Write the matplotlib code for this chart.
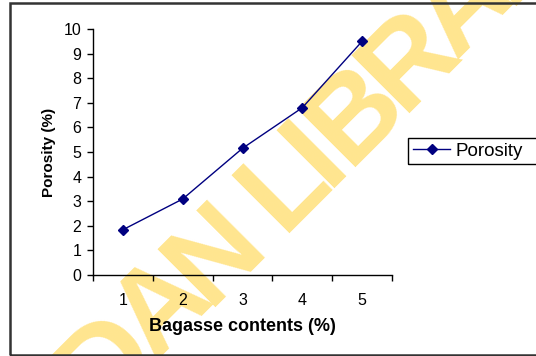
import math
import matplotlib
matplotlib.use("Agg")
import matplotlib.pyplot as plt
from matplotlib.patches import Rectangle
from matplotlib.ticker import FixedLocator

plt.rcParams['font.family'] = ['Liberation Sans', 'DejaVu Sans']

categories = ["1", "2", "3", "4", "5"]
porosity = [1.84, 3.09, 5.15, 6.80, 9.50]
yticks = [0, 1, 2, 3, 4, 5, 6, 7, 8, 9, 10]

W, H = 536, 356
fig = plt.figure(figsize=(W / 100, H / 100), dpi=100)
fig.patch.set_facecolor('white')

def fx(px):
    return px / W

def fy(py):
    return 1 - py / H

# watermark (behind everything), letters placed along a 45 degree baseline
wm_color = '#FFE58F'
wm_text = "IBADAN LIBRARY"
wm_adv = {'I': 0.278, 'B': 0.722, 'A': 0.722, 'D': 0.722, 'N': 0.722,
          ' ': 0.278, 'L': 0.611, 'R': 0.722, 'Y': 0.667}
wm_size = 86
wm_em = wm_size * 100 / 72
wm_spacing = 0.88
anchor_idx = wm_text.index('L')
start = -sum(wm_adv[c] for c in wm_text[:anchor_idx]) * wm_em * wm_spacing
d = start
c45 = math.cos(math.radians(45))
for ch in wm_text:
    if ch != ' ':
        px = 282 + d * c45
        py = 233 - d * c45
        fig.text(fx(px), fy(py), ch, rotation=45, rotation_mode='anchor',
                 ha='left', va='baseline', fontsize=wm_size, fontweight='bold',
                 color=wm_color, zorder=-1)
    d += wm_adv[ch] * wm_em * wm_spacing

# outer border
fig.patches.append(Rectangle((fx(10), fy(355)), 1.2, fy(3) - fy(355),
                             transform=fig.transFigure, fill=False,
                             edgecolor='#333333', linewidth=1.8, zorder=5))

ax = fig.add_axes([fx(93), fy(275), fx(392) - fx(93), fy(29) - fy(275)])
ax.set_facecolor('none')

x = list(range(1, len(categories) + 1))
ax.plot(x, porosity, color='#000080', linewidth=1.0, marker='D',
        markersize=5.5, markerfacecolor='#000080', markeredgecolor='#000080',
        label='Porosity', clip_on=False)

ax.set_xlim(0.5, len(categories) + 0.5)
ax.set_ylim(0, 10)
ax.set_yticks(yticks)
ax.set_xticks(x)
ax.set_xticklabels(categories)
ax.xaxis.set_minor_locator(FixedLocator([i + 0.5 for i in range(0, len(categories) + 1)]))
ax.tick_params(axis='x', which='major', length=0, pad=13, labelsize=11.5)
ax.tick_params(axis='x', which='minor', length=4.5, width=1, direction='out')
ax.tick_params(axis='y', length=4.5, width=1, direction='out', pad=4, labelsize=11.5)

for s in ['top', 'right']:
    ax.spines[s].set_visible(False)
for s in ['left', 'bottom']:
    ax.spines[s].set_linewidth(1.0)
    ax.spines[s].set_color('black')

ax.set_xlabel("Bagasse contents (%)", fontsize=13, fontweight='bold', labelpad=7)
ax.set_ylabel("Porosity (%)", fontsize=11, fontweight='bold', labelpad=5)

leg = ax.legend(loc='center left', bbox_to_anchor=(fx(409), fy(151)),
                bbox_transform=fig.transFigure, frameon=False,
                fontsize=13.5, handlelength=2.0, borderpad=0.0,
                handletextpad=0.3, borderaxespad=0.2)
fig.patches.append(Rectangle((fx(408), fy(164)), fx(560) - fx(408), fy(138) - fy(164),
                             transform=fig.transFigure, fill=False,
                             edgecolor='black', linewidth=1.0, zorder=5))

fig.savefig("out.png", dpi=100)
